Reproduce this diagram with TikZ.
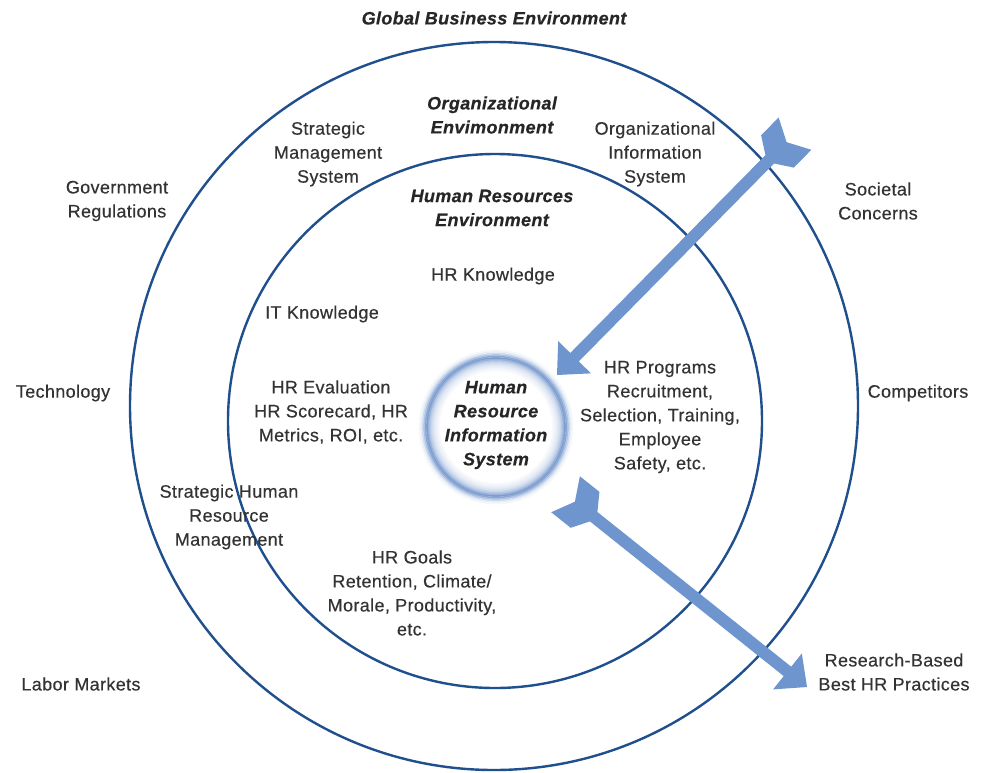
\documentclass[tikz,border=0pt]{standalone}
\usepackage{fontspec}
\setmainfont[LetterSpace=2,FakeBold=0.4]{Liberation Sans}
\usetikzlibrary{calc}
\definecolor{ringline}{HTML}{1F4F8C}
\definecolor{arrowblue}{HTML}{6E95CE}
\definecolor{glowbase}{HTML}{5A83C3}
\definecolor{txt}{HTML}{333333}
\definecolor{txtb}{HTML}{262626}
\tikzset{
  lbl/.style={align=center, font=\fontsize{18}{24}\selectfont, text=txt, inner sep=0pt},
  ttl/.style={align=center, font=\fontsize{18}{24}\selectfont\bfseries\itshape, text=txtb, inner sep=0pt},
  envring/.style={draw=ringline, line width=2.4pt},
  fletched/.style={fill=arrowblue, draw=none},
  glow/.style={draw=glowbase!#1, line width=1.7pt}
}
\newcommand{\arrowshape}[1]{%
  (0,0) -- (25,23) -- (25,6) -- (#1-24,6) -- (#1-13,23) -- (#1+12,23) -- (#1,0) -- (#1+12,-23) -- (#1-13,-23) -- (#1-24,-6) -- (25,-6) -- (25,-23) -- cycle}
\begin{document}
\begin{tikzpicture}[x=1pt,y=-1pt]
\useasboundingbox (0,0) rectangle (984,772);
\fill[white] (0,0) rectangle (984,772);

% environment rings
\coordinate (c0) at (494,406);
\coordinate (c1) at (495,421);
\coordinate (c2) at (496,427);
\draw[envring] (c0) circle (364);
\draw[envring] (c1) circle (267);

% HRIS core: soft blue ring
\foreach \r/\p in {57/5, 58.5/8, 60/12, 61.5/17, 63/24, 64.5/33, 66/45, 67.5/62, 69/78, 70.5/70, 72/50, 73.5/30, 75/14, 76.5/6}
  \draw[glow=\p] (c2) circle (\r);
\node[ttl] (hris) at (496,425) {Human\\Resource\\Information\\System};

% arrows
\coordinate (tip1) at (557,375);
\coordinate (tip2) at (807,687);
\begin{scope}[shift={(tip1)}, rotate=45.4]
  \fill[fletched] \arrowshape{327};
\end{scope}
\begin{scope}[shift={(tip2)}, rotate=141.4]
  \fill[fletched] \arrowshape{297};
\end{scope}

% labels
\node[ttl] (gbe) at (494,18) {Global Business Environment};
\node[ttl] (oe) at (492,115) {Organizational\\Envimonment};
\node[ttl] (hre) at (492,208) {Human Resources\\Environment};

\node[lbl] (sms) at (328,154) {Strategic\\Management\\System};
\node[lbl] (ois) at (655,154) {Organizational\\Information\\System};
\node[lbl] (gov) at (117,201) {Government\\Regulations};
\node[lbl] (soc) at (878,201) {Societal\\Concerns};
\node[lbl] (hrk) at (493,276) {HR Knowledge};
\node[lbl] (itk) at (322,314) {IT Knowledge};
\node[lbl] (tech) at (63,393) {Technology};
\node[lbl] (comp) at (918,393) {Competitors};
\node[lbl] (hrev) at (331,412) {HR Evaluation\\HR Scorecard, HR\\Metrics, ROI, etc.};
\node[lbl] (hrp) at (660,417) {HR Programs\\Recruitment,\\Selection, Training,\\Employee\\Safety, etc.};
\node[lbl] (shrm) at (229,517) {Strategic Human\\Resource\\Management};
\node[lbl] (hrg) at (412,593) {HR Goals\\Retention, Climate/\\Morale, Productivity,\\etc.};
\node[lbl] (lab) at (81,684) {Labor Markets};
\node[lbl] (rbp) at (894,672) {Research-Based\\Best HR Practices};
\end{tikzpicture}
\end{document}
